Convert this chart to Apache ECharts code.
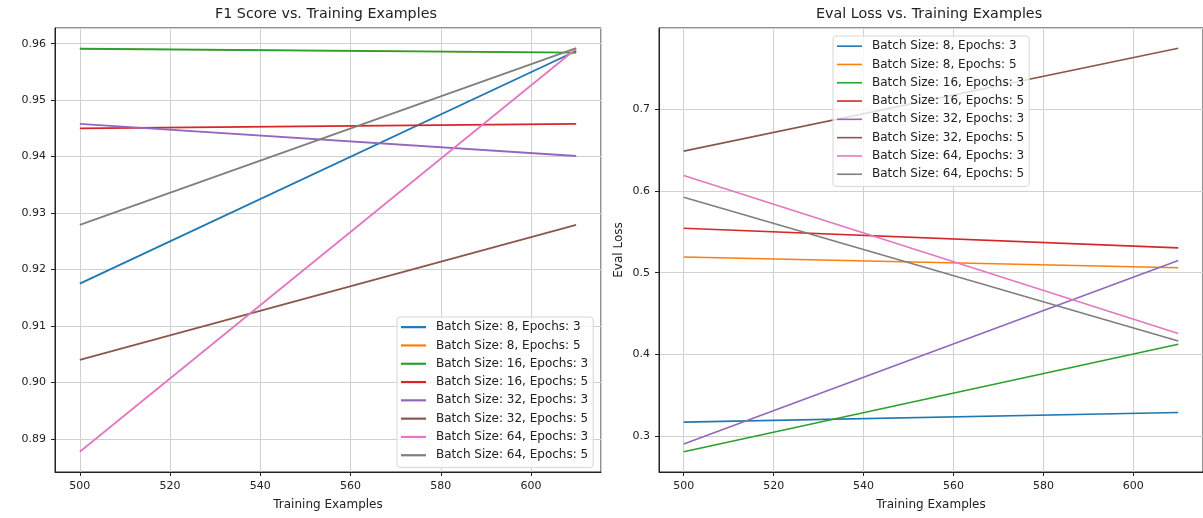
<!DOCTYPE html>
<html>
  <head>
    <meta charset="utf-8" />
    <title>F1 Score / Eval Loss vs. Training Examples</title>
    <script src="https://cdn.jsdelivr.net/npm/echarts@6/dist/echarts.min.js"></script>
    <style>
      html, body { margin: 0; padding: 0; background: #fff; }
      #main { width: 1203px; height: 518px; }
    </style>
  </head>
  <body>
    <div id="main"></div>

    <script type="text/javascript">
      // training examples (x)
      var trainingExamples = [500, 610];

      var runNames = [
        "Batch Size: 8, Epochs: 3",
        "Batch Size: 8, Epochs: 5",
        "Batch Size: 16, Epochs: 3",
        "Batch Size: 16, Epochs: 5",
        "Batch Size: 32, Epochs: 3",
        "Batch Size: 32, Epochs: 5",
        "Batch Size: 64, Epochs: 3",
        "Batch Size: 64, Epochs: 5",
      ];

      // F1 score per run, at 500 and 610 examples
      var f1_b8_e3 = [0.9175, 0.9587];
      var f1_b8_e5 = [0.9591, 0.9584];
      var f1_b16_e3 = [0.9591, 0.9584];
      var f1_b16_e5 = [0.945, 0.9458];
      var f1_b32_e3 = [0.9458, 0.9401];
      var f1_b32_e5 = [0.904, 0.9279];
      var f1_b64_e3 = [0.8877, 0.9591];
      var f1_b64_e5 = [0.9279, 0.9592];

      // eval loss per run
      var loss_b8_e3 = [0.3176, 0.3293];
      var loss_b8_e5 = [0.5191, 0.5061];
      var loss_b16_e3 = [0.2813, 0.4126];
      var loss_b16_e5 = [0.5543, 0.5303];
      var loss_b32_e3 = [0.2907, 0.515];
      var loss_b32_e5 = [0.6484, 0.7741];
      var loss_b64_e3 = [0.6187, 0.4257];
      var loss_b64_e5 = [0.5922, 0.4166];

      var f1Data = [f1_b8_e3, f1_b8_e5, f1_b16_e3, f1_b16_e5, f1_b32_e3, f1_b32_e5, f1_b64_e3, f1_b64_e5];
      var lossData = [loss_b8_e3, loss_b8_e5, loss_b16_e3, loss_b16_e5, loss_b32_e3, loss_b32_e5, loss_b64_e3, loss_b64_e5];

      var colors = ["#1f77b4", "#ff7f0e", "#2ca02c", "#d62728", "#9467bd", "#8c564b", "#e377c2", "#7f7f7f"];
      var txt = "#222";
      var font = "DejaVu Sans";

      function pairs(ys) {
        var out = [];
        for (var i = 0; i < ys.length; i++) {
          out.push([trainingExamples[i], ys[i]]);
        }
        return out;
      }

      var series = [];
      for (var i = 0; i < runNames.length; i++) {
        series.push({
          name: runNames[i],
          type: "line",
          xAxisIndex: 0,
          yAxisIndex: 0,
          symbol: "none",
          color: colors[i],
          // orange sits right under the green one and should not show through
          lineStyle: { width: i === 1 ? 1 : 1.8 },
          data: pairs(f1Data[i]),
        });
      }
      for (var j = 0; j < runNames.length; j++) {
        series.push({
          name: runNames[j],
          type: "line",
          xAxisIndex: 1,
          yAxisIndex: 1,
          symbol: "none",
          color: colors[j],
          lineStyle: { width: 1.6 },
          data: pairs(lossData[j]),
        });
      }

      function xAxis(gridIndex) {
        return {
          gridIndex: gridIndex,
          type: "value",
          min: 494.5,
          max: 615.5,
          splitNumber: 5,
          name: "Training Examples",
          nameLocation: "middle",
          nameGap: 27,
          nameTextStyle: { color: txt, fontSize: 12, fontFamily: font },
          axisLine: { show: true, lineStyle: { color: "#222", width: 1 } },
          axisTick: { show: true, length: 4, lineStyle: { color: "#222" } },
          axisLabel: {
            color: txt,
            fontSize: 11,
            fontFamily: font,
            margin: 9,
            showMinLabel: false,
            showMaxLabel: false,
          },
          splitLine: { show: true, lineStyle: { color: "#d0d0d0", width: 1 } },
        };
      }

      function yAxis(gridIndex, min, max, splitNumber, name, fmt) {
        return {
          gridIndex: gridIndex,
          type: "value",
          min: min,
          max: max,
          splitNumber: splitNumber,
          name: name,
          nameLocation: "middle",
          nameGap: 34,
          nameTextStyle: { color: txt, fontSize: 12, fontFamily: font },
          axisLine: { show: true, lineStyle: { color: "#222", width: 1 } },
          axisTick: { show: true, length: 4, lineStyle: { color: "#222" } },
          axisLabel: {
            color: txt,
            fontSize: 11,
            fontFamily: font,
            margin: 9,
            showMinLabel: false,
            showMaxLabel: false,
            formatter: fmt,
          },
          splitLine: { show: true, lineStyle: { color: "#d0d0d0", width: 1 } },
        };
      }

      function legend(left, top, handle) {
        return {
          orient: "vertical",
          left: left,
          top: top,
          data: runNames,
          icon: "rect",
          itemWidth: 25,
          itemHeight: handle,
          itemGap: 0,
          padding: [1, 5, 3, 4],
          backgroundColor: "rgba(255,255,255,0.8)",
          borderColor: "#d6d6d6",
          borderWidth: 1,
          borderRadius: 3,
          selectedMode: false,
          textStyle: {
            color: txt,
            fontSize: 12,
            fontFamily: font,
            lineHeight: 18.3,
            padding: [0, 0, 0, 5],
          },
        };
      }

      var chartDom = document.getElementById("main");
      var myChart = echarts.init(chartDom, null, { renderer: "canvas" });
      var option = {
        animation: false,
        backgroundColor: "#fff",
        title: [
          {
            text: "F1 Score vs. Training Examples",
            left: 215,
            top: 7,
            padding: 0,
            textStyle: { color: txt, fontSize: 14.3, fontWeight: "normal", fontFamily: font },
          },
          {
            text: "Eval Loss vs. Training Examples",
            left: 816,
            top: 7,
            padding: 0,
            textStyle: { color: txt, fontSize: 14.3, fontWeight: "normal", fontFamily: font },
          },
        ],
        legend: [legend(397, 317, 2.2), legend(833, 36, 1.6)],
        grid: [
          { left: 55, top: 28, width: 546, height: 444, show: true, borderColor: "#222", borderWidth: 1 },
          { left: 659, top: 28, width: 546, height: 444, show: true, borderColor: "#222", borderWidth: 1 },
        ],
        xAxis: [xAxis(0), xAxis(1)],
        yAxis: [
          yAxis(0, 0.884125, 0.962775, 8, "", function (v) { return v.toFixed(2); }),
          yAxis(1, 0.25666, 0.79874, 5, "Eval Loss", function (v) { return v.toFixed(1); }),
        ],
        series: series,
      };

      option && myChart.setOption(option);
    </script>
  </body>
</html>
